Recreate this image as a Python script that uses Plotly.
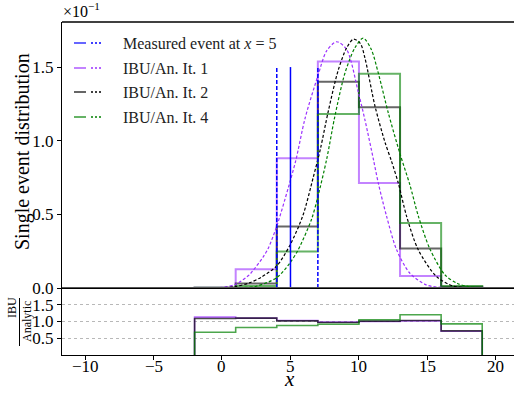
import plotly.graph_objects as go

# ---- data -------------------------------------------------------------
bin_edges = [-2, 1, 4, 7, 10, 13, 16, 19]

# unfolded single-event distribution (units of 1e-1)
ibu_it1 = [0.002, 0.127, 0.881, 1.538, 0.713, 0.082, 0.005]
ibu_it2 = [0.001, 0.030, 0.418, 1.400, 1.227, 0.268, 0.008]
ibu_it4 = [0.001, 0.014, 0.248, 1.181, 1.454, 0.441, 0.014]

# IBU / analytic ratio per bin
ratio_it1 = [1.13, 1.10, 1.03, 0.98, 1.00, 1.02, 0.71]
ratio_it2 = [1.09, 1.10, 1.02, 0.97, 1.01, 1.03, 0.72]
ratio_it4 = [0.68, 0.82, 0.88, 0.92, 1.05, 1.20, 0.93]

# analytic curves (units of 1e-1)
an1_x = [-2, 0, 1, 2, 2.28, 3, 3.38, 4, 4.84, 5.4, 6.06, 7.0, 7.64, 8.37, 9.1, 9.95,
         10.44, 11.04, 11.41, 12.02, 12.75, 13.72, 14.94, 16, 17, 19]
an1_y = [0, 0.004, 0.025, 0.09, 0.12, 0.21, 0.27, 0.42, 0.68, 0.87, 1.15, 1.44, 1.61,
         1.672, 1.62, 1.33, 1.14, 0.88, 0.713, 0.486, 0.259, 0.10, 0.02, 0.004, 0.001, 0]

an2_x = [-2, 0, 1, 2, 2.9, 4, 4.96, 5.9, 6.66, 7.2, 7.76, 8.49, 9.1, 9.6, 10.1, 10.44,
         11.17, 11.9, 12.38, 12.87, 13.48, 14.33, 15.67, 16.9, 18, 19]
an2_y = [0, 0.002, 0.01, 0.035, 0.075, 0.15, 0.29, 0.49, 0.75, 0.95, 1.2, 1.48, 1.63,
         1.69, 1.66, 1.56, 1.235, 0.99, 0.86, 0.713, 0.486, 0.259, 0.077, 0.012, 0.002, 0]

an4_x = [-2, 1, 2.5, 3.99, 4.96, 5.57, 6.55, 7.0, 7.64, 8.25, 8.98, 9.7, 10.31, 10.9,
         11.41, 12.14, 13.0, 13.72, 14.33, 15.18, 16.28, 17.2, 18, 19]
an4_y = [0, 0.002, 0.012, 0.07, 0.17, 0.26, 0.47, 0.62, 0.873, 1.17, 1.46, 1.63, 1.697,
         1.62, 1.46, 1.19, 0.91, 0.70, 0.49, 0.265, 0.089, 0.03, 0.01, 0.002]

# measured event and its smearing window
event_x = 5
window_lo, window_hi = 4, 7
event_line_height = 1.5

x_ticks = [-10, -5, 0, 5, 10, 15, 20]
legend_labels = ["Measured event at <i>x</i> = 5", "IBU/An. It. 1", "IBU/An. It. 2", "IBU/An. It. 4"]

# ---- styling ----------------------------------------------------------
FONT = "Liberation Serif, DejaVu Serif, Noto Serif, serif"
BLUE = "rgb(0,0,255)"
PURPLE = "rgb(155,48,255)"
BLACK = "rgb(0,0,0)"
GREEN = "rgb(0,128,0)"


def rgba(c, a):
    return c.replace("rgb(", "rgba(").replace(")", f",{a})")


def step(edges, vals):
    xs = [edges[0]] + list(edges)
    ys = [0] + list(vals) + [0]
    return xs, ys


fig = go.Figure()

# unfolded histograms
for vals, col in [(ibu_it1, PURPLE), (ibu_it2, BLACK), (ibu_it4, GREEN)]:
    xs, ys = step(bin_edges, vals)
    fig.add_trace(go.Scatter(x=xs, y=ys, mode="lines", line_shape="hv",
                             line=dict(color=rgba(col, 0.6), width=2),
                             xaxis="x", yaxis="y", showlegend=False, hoverinfo="skip"))

# analytic curves
for ax_, ay_, col in [(an1_x, an1_y, PURPLE), (an2_x, an2_y, BLACK), (an4_x, an4_y, GREEN)]:
    fig.add_trace(go.Scatter(x=ax_, y=ay_, mode="lines", line_shape="spline",
                             line=dict(color=col, width=1.2, dash="3px,2px", smoothing=0.8),
                             xaxis="x", yaxis="y", showlegend=False, hoverinfo="skip"))

# measured event
fig.add_trace(go.Scatter(x=[event_x, event_x], y=[0, event_line_height], mode="lines",
                         line=dict(color=BLUE, width=1.5), xaxis="x", yaxis="y",
                         showlegend=False, hoverinfo="skip"))
for wx in (window_lo, window_hi):
    fig.add_trace(go.Scatter(x=[wx, wx], y=[0, event_line_height], mode="lines",
                             line=dict(color=BLUE, width=1.5, dash="4px,2px"),
                             xaxis="x", yaxis="y", showlegend=False, hoverinfo="skip"))

# ratio panel
for vals, col in [(ratio_it1, PURPLE), (ratio_it2, BLACK), (ratio_it4, GREEN)]:
    xs, ys = step(bin_edges, vals)
    fig.add_trace(go.Scatter(x=xs, y=ys, mode="lines", line_shape="hv",
                             line=dict(color=rgba(col, 0.7), width=1.6),
                             xaxis="x2", yaxis="y2", showlegend=False, hoverinfo="skip"))

# ---- layout -----------------------------------------------------------
W, H = 514, 393
ML, MR, MT, MB = 62, 0, 22, 38
PW, PH = W - ML - MR, H - MT - MB
split = (H - MB - 288) / PH

XR = [-11.68, 21.32]
tickfont = dict(family=FONT, size=17, color="black")

fig.update_layout(
    width=W, height=H, margin=dict(l=ML, r=MR, t=MT, b=MB, autoexpand=False),
    paper_bgcolor="white", plot_bgcolor="white",
    font=dict(family=FONT, color="black"),
    xaxis=dict(domain=[0, 1], range=XR, anchor="y", showticklabels=False, ticks="",
               showgrid=False, zeroline=False, showline=True, linecolor="black", linewidth=1.3,
               matches="x2", automargin=False),
    yaxis=dict(domain=[split, 1], range=[0, 1.806], tickvals=[0, 0.5, 1.0, 1.5],
               tickformat=".1f", ticks="outside", ticklen=4, tickcolor="black",
               tickfont=tickfont, showgrid=False, zeroline=False, showline=True,
               linecolor="black", linewidth=1.3, automargin=False),
    xaxis2=dict(domain=[0, 1], range=XR, anchor="y2", tickvals=x_ticks,
                ticks="outside", ticklen=4, tickcolor="black", showticklabels=False,
                showgrid=False, zeroline=False, showline=True, linecolor="black", linewidth=1.3,
                automargin=False),
    yaxis2=dict(domain=[0, split], range=[0, 2.0], tickvals=[0.5, 1.0, 1.5], tickformat=".1f",
                ticks="outside", ticklen=4, tickcolor="black", tickfont=tickfont,
                showgrid=True, gridcolor="#b8b8b8", griddash="dot", gridwidth=1,
                zeroline=False, showline=True, linecolor="black", linewidth=1.3,
                automargin=False),
)


def px(xp):
    return (xp - ML) / PW


def py(yp):
    return (H - MB - yp) / PH


shapes = []
# top frame line of the main panel
shapes.append(dict(type="line", xref="paper", yref="paper", x0=0, x1=1, y0=1, y1=1,
                   line=dict(color="black", width=1.3)))
# zero line of the main panel
shapes.append(dict(type="line", xref="paper", yref="y", x0=0, x1=1, y0=0, y1=0,
                   line=dict(color="#555555", width=2)))

annotations = []
# x tick labels of the ratio panel, placed just under the ticks
for t in x_ticks:
    annotations.append(dict(xref="x2", yref="paper", x=t, y=py(355), text=f"{t}".replace("-", "−"),
                            xanchor="center", yanchor="top", showarrow=False,
                            font=tickfont))

# legend (solid = IBU histogram, dashed = analytic)
legend_rows = [43, 68, 92, 117]
legend_cols = [BLUE, PURPLE, BLACK, GREEN]
for row_y, col, lab in zip(legend_rows, legend_cols, legend_labels):
    shapes.append(dict(type="line", xref="paper", yref="paper", x0=px(74), x1=px(86),
                       y0=py(row_y), y1=py(row_y), line=dict(color=rgba(col, 0.6), width=2)))
    shapes.append(dict(type="line", xref="paper", yref="paper", x0=px(91), x1=px(103),
                       y0=py(row_y), y1=py(row_y), line=dict(color=col, width=1.3, dash="2px,2px")))
    annotations.append(dict(xref="paper", yref="paper", x=px(121), y=py(row_y), text=lab,
                            xanchor="left", yanchor="middle", showarrow=False,
                            font=dict(family=FONT, size=16, color="#222222")))

# exponent of the main y axis
annotations.append(dict(xref="paper", yref="paper", x=px(61), y=py(22), text="×10<sup>−1</sup>",
                        xanchor="left", yanchor="bottom", showarrow=False,
                        font=dict(family=FONT, size=16, color="black")))
# axis titles
annotations.append(dict(xref="paper", yref="paper", x=px(289), y=py(393), text="<i>x</i>",
                        showarrow=False, xanchor="center", yanchor="bottom",
                        font=dict(family=FONT, size=21, color="black")))
annotations.append(dict(xref="paper", yref="paper", x=px(22), y=py(152),
                        text="Single event distribution", textangle=-90, showarrow=False,
                        xanchor="center", yanchor="middle",
                        font=dict(family=FONT, size=20, color="black")))
annotations.append(dict(xref="paper", yref="paper", x=px(12), y=py(308), text="IBU",
                        textangle=-90, showarrow=False, xanchor="center", yanchor="middle",
                        font=dict(family=FONT, size=12, color="black")))
annotations.append(dict(xref="paper", yref="paper", x=px(27), y=py(322), text="Analytic",
                        textangle=-90, showarrow=False, xanchor="center", yanchor="middle",
                        font=dict(family=FONT, size=12, color="black")))
# fraction bar of the ratio-panel title
shapes.append(dict(type="line", xref="paper", yref="paper", x0=px(19.5), x1=px(19.5),
                   y0=py(298), y1=py(346), line=dict(color="black", width=1)))

fig.update_layout(shapes=shapes, annotations=annotations)

fig.write_html("out.html")
